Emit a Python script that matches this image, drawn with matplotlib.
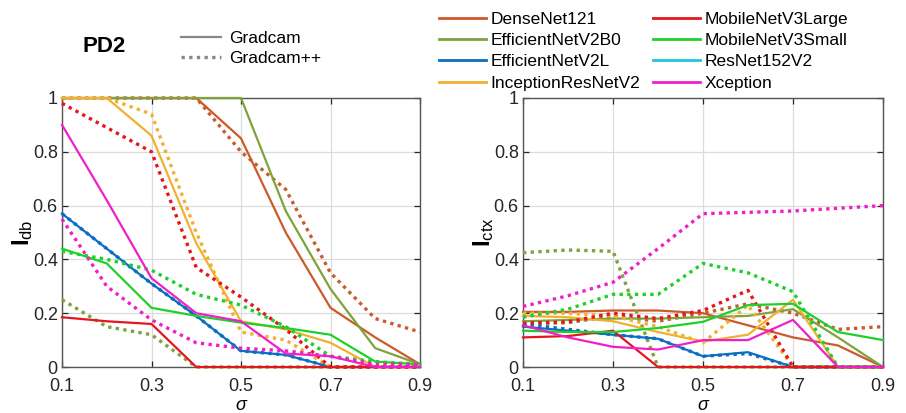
import matplotlib
matplotlib.use("Agg")
import matplotlib.pyplot as plt
from matplotlib.lines import Line2D

plt.rcParams['font.family'] = ['Liberation Sans', 'DejaVu Sans']
plt.rcParams['mathtext.fontset'] = 'custom'
plt.rcParams['mathtext.rm'] = 'Liberation Sans'
plt.rcParams['mathtext.bf'] = 'Liberation Sans:bold'
plt.rcParams['mathtext.it'] = 'Liberation Sans:italic'

NA = float('nan')

# ---------------- data ----------------
sigma = [0.1, 0.2, 0.3, 0.4, 0.5, 0.6, 0.7, 0.8, 0.9]
models = ["DenseNet121", "EfficientNetV2B0", "EfficientNetV2L", "InceptionResNetV2",
          "MobileNetV3Large", "MobileNetV3Small", "ResNet152V2", "Xception"]
colors = ["#CC5A2A", "#7FA33A", "#0A6FC0", "#F0B030",
          "#E4161E", "#1ED02A", "#1EC8DC", "#F020C8"]

# I_db, Gradcam (solid)
db_gc_densenet = [1, 1, 1, 1, 0.85, 0.50, 0.22, 0.11, 0.01]
db_gc_effb0 = [1, 1, 1, 1, 1, 0.58, 0.29, 0.07, 0.01]
db_gc_effl = [0.57, 0.44, 0.31, 0.19, 0.06, 0.045, 0, 0, 0]
db_gc_incep = [1, 1, 0.86, 0.46, 0.17, 0.14, 0.09, 0, 0]
db_gc_moblarge = [0.185, 0.17, 0.16, 0, 0, 0, 0, 0, 0]
db_gc_mobsmall = [0.44, 0.385, 0.22, 0.19, 0.165, 0.145, 0.12, 0.02, 0.01]
db_gc_resnet = [NA, NA, NA, NA, NA, NA, NA, NA, NA]
db_gc_xcep = [0.90, 0.62, 0.33, 0.20, 0.17, 0.05, 0.04, 0, 0]

# I_db, Gradcam++ (dotted)
db_gp_densenet = [1, 1, 1, 1, 0.80, 0.66, 0.35, 0.18, 0.13]
db_gp_effb0 = [0.25, 0.15, 0.12, 0, 0, 0, 0, 0, 0]
db_gp_effl = [0.57, 0.44, 0.31, 0.19, 0.06, 0.045, 0, 0, 0]
db_gp_incep = [1, 1, 0.94, 0.50, 0.13, 0.10, 0.0, 0, 0]
db_gp_moblarge = [0.98, 0.89, 0.80, 0.37, 0.26, 0.14, 0.0, 0, 0]
db_gp_mobsmall = [0.43, 0.40, 0.36, 0.27, 0.23, 0.15, 0.04, 0.02, 0.01]
db_gp_resnet = [NA, NA, NA, NA, NA, NA, NA, NA, NA]
db_gp_xcep = [0.55, 0.30, 0.175, 0.09, 0.07, 0.06, 0.04, 0.01, 0.01]

# I_ctx, Gradcam (solid)
ctx_gc_densenet = [0.205, 0.205, 0.21, 0.21, 0.20, 0.155, 0.11, 0.08, 0.0]
ctx_gc_effb0 = [0.17, 0.175, 0.18, 0.18, 0.185, 0.19, 0.215, 0.11, 0.0]
ctx_gc_effl = [0.15, 0.135, 0.12, 0.105, 0.04, 0.055, 0, 0, 0]
ctx_gc_incep = [0.19, 0.185, 0.17, 0.13, 0.095, 0.12, 0.25, 0, 0]
ctx_gc_moblarge = [0.11, 0.115, 0.135, 0, 0, 0, 0, 0, 0]
ctx_gc_mobsmall = [0.135, 0.13, 0.13, 0.145, 0.168, 0.23, 0.235, 0.13, 0.10]
ctx_gc_resnet = [NA, NA, NA, NA, NA, NA, NA, NA, NA]
ctx_gc_xcep = [0.155, 0.11, 0.075, 0.065, 0.10, 0.10, 0.175, 0, 0]

# I_ctx, Gradcam++ (dotted)
ctx_gp_densenet = [0.16, 0.165, 0.19, 0.17, 0.20, 0.235, 0.20, 0.14, 0.15]
ctx_gp_effb0 = [0.425, 0.435, 0.43, 0, 0, 0, 0, 0, 0]
ctx_gp_effl = [0.16, 0.14, 0.12, 0.105, 0.04, 0.05, 0, 0, 0]
ctx_gp_incep = [0.20, 0.20, 0.19, 0.15, 0.09, 0.23, 0.0, 0, 0]
ctx_gp_moblarge = [0.163, 0.168, 0.20, 0.18, 0.21, 0.285, 0, 0, 0]
ctx_gp_mobsmall = [0.185, 0.215, 0.27, 0.27, 0.385, 0.35, 0.28, 0, 0]
ctx_gp_resnet = [NA, NA, NA, NA, NA, NA, NA, NA, NA]
ctx_gp_xcep = [0.225, 0.265, 0.315, 0.44, 0.57, 0.575, 0.58, 0.59, 0.60]

db_gc = [db_gc_densenet, db_gc_effb0, db_gc_effl, db_gc_incep,
         db_gc_moblarge, db_gc_mobsmall, db_gc_resnet, db_gc_xcep]
db_gp = [db_gp_densenet, db_gp_effb0, db_gp_effl, db_gp_incep,
         db_gp_moblarge, db_gp_mobsmall, db_gp_resnet, db_gp_xcep]
ctx_gc = [ctx_gc_densenet, ctx_gc_effb0, ctx_gc_effl, ctx_gc_incep,
          ctx_gc_moblarge, ctx_gc_mobsmall, ctx_gc_resnet, ctx_gc_xcep]
ctx_gp = [ctx_gp_densenet, ctx_gp_effb0, ctx_gp_effl, ctx_gp_incep,
          ctx_gp_moblarge, ctx_gp_mobsmall, ctx_gp_resnet, ctx_gp_xcep]

xticks = [0.1, 0.3, 0.5, 0.7, 0.9]
xtick_labels = ["0.1", "0.3", "0.5", "0.7", "0.9"]
yticks = [0, 0.2, 0.4, 0.6, 0.8, 1]
ytick_labels = ["0", "0.2", "0.4", "0.6", "0.8", "1"]

# ---------------- figure ----------------
W, H = 906, 413
fig = plt.figure(figsize=(W / 100, H / 100), dpi=100)
ax1 = fig.add_axes([62 / W, 1 - 367 / H, 358 / W, 269 / H])
ax2 = fig.add_axes([523 / W, 1 - 367 / H, 360 / W, 269 / H])

DOT = (0, (1, 1.3))
LW_S = 1.6
LW_D = 2.4


def draw(ax, gc, gp, ylabel):
    for i in range(len(models)):
        ax.plot(sigma, gc[i], color=colors[i], lw=LW_S, ls='-', clip_on=False,
                zorder=3)
        ax.plot(sigma, gp[i], color=colors[i], lw=LW_D, ls=DOT, clip_on=False,
                zorder=3)
    ax.set_xlim(0.1, 0.9)
    ax.set_ylim(0, 1)
    ax.set_xticks(xticks)
    ax.set_xticklabels(xtick_labels)
    ax.set_yticks(yticks)
    ax.set_yticklabels(ytick_labels)
    ax.grid(True, color="#DCDCDC", lw=0.9)
    ax.set_axisbelow(True)
    ax.tick_params(direction='in', length=4, width=0.9, top=True, right=True,
                   labelsize=13, colors="#262626")
    ax.tick_params(axis='x', pad=8)
    ax.tick_params(axis='y', pad=3)
    for s in ax.spines.values():
        s.set_color("#555555")
        s.set_linewidth(1.0)
    ax.set_xlabel("σ", fontsize=13, style='italic', labelpad=1)
    ax.set_ylabel(ylabel, fontsize=17, labelpad=-2)


draw(ax1, db_gc, db_gp, r'$\mathbf{I}_{\mathrm{db}}$')
draw(ax2, ctx_gc, ctx_gp, r'$\mathbf{I}_{\mathrm{ctx}}$')

# ---------------- legends ----------------
fig.text(82 / W, 1 - 47 / H, "PD2", fontsize=16, fontweight='bold',
         va='center', ha='left')

style_handles = [Line2D([], [], color="#888888", lw=LW_S, ls='-'),
                 Line2D([], [], color="#888888", lw=LW_D, ls=DOT)]
fig.legend(style_handles, ["Gradcam", "Gradcam++"], loc='upper left',
           bbox_to_anchor=(178 / W, 1 - 27 / H), frameon=False, fontsize=12.5,
           handlelength=2.3, handletextpad=0.45, labelspacing=0.32,
           borderaxespad=0, borderpad=0.2)

model_handles = [Line2D([], [], color=c, lw=2.0, ls='-') for c in colors]
fig.legend(model_handles, models, loc='upper left', ncol=2,
           bbox_to_anchor=(436 / W, 1 - 8 / H), frameon=False, fontsize=12.5,
           handlelength=2.7, handletextpad=0.25, labelspacing=0.36,
           columnspacing=0.75, borderaxespad=0, borderpad=0.2)

fig.savefig("out.png", dpi=100)
